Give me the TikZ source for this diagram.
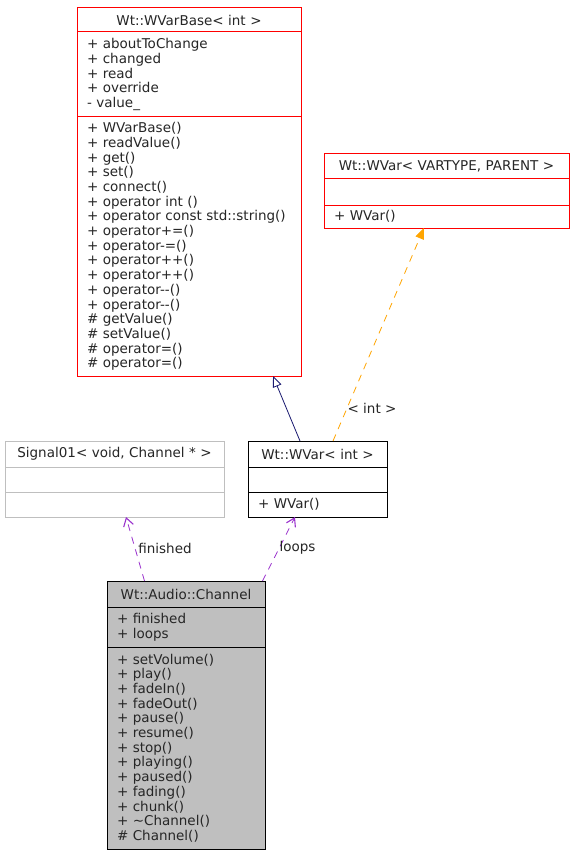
\documentclass[tikz,border=0pt]{standalone}
\usepackage{fontspec}
\setmainfont{DejaVu Sans}
\usetikzlibrary{arrows.meta}
\definecolor{dxred}{HTML}{FF0000}
\definecolor{dxgray}{HTML}{BFBFBF}
\definecolor{dxnavy}{HTML}{191970}
\definecolor{dxorange}{HTML}{FFA500}
\definecolor{dxpurple}{HTML}{9A32CD}
\tikzset{
  txt/.style={font=\fontsize{13.5}{14.7}\selectfont, text=black!85},
  comp/.style={txt, inner xsep=10pt, inner ysep=0pt, outer sep=0pt, anchor=north west, align=left},
  ttl/.style={comp, align=center},
  chanbox/.style={fill=dxgray},
  frame/.style={line width=1pt},
  lbl/.style={txt, inner sep=1pt},
  inherit/.style={draw=dxnavy, line width=0.8pt, -{Triangle[open, length=11pt, width=9pt]}},
  templ/.style={draw=dxorange, line width=0.8pt, dash pattern=on 7pt off 6pt, -{Triangle[length=11pt, width=9pt, fill=dxorange]}},
  usage/.style={draw=dxpurple, line width=0.8pt, dash pattern=on 7pt off 6pt, -{Straight Barb[length=8pt, width=10pt, line width=1.1pt]}},
}
\begin{document}
\begin{tikzpicture}[x=1pt, y=-1pt]
\fill[white] (0,0) rectangle (572,853);
\useasboundingbox (0,0) rectangle (572,853);

% Wt::WVarBase< int >
\node[ttl, text width=204pt, minimum height=24pt] (base-t) at (77,8) {Wt::WVarBase< int >};
\node[comp, text width=204pt, minimum height=85pt] (base-a) at (77,32) {+ aboutToChange\\+ changed\\+ read\\+ override\\- value\_};
\node[comp, text width=204pt, minimum height=259pt] (base-m) at (77,117) {+ WVarBase()\\+ readValue()\\+ get()\\+ set()\\+ connect()\\+ operator int ()\\+ operator const std::string()\\+ operator+=()\\+ operator-=()\\+ operator++()\\+ operator++()\\+ operator-{}-()\\+ operator-{}-()\\\# getValue()\\\# setValue()\\\# operator=()\\\# operator=()};
\draw[frame, dxred] (base-t.north west) rectangle (base-m.south east);
\draw[frame, dxred] (base-a.north west) -- (base-a.north east);
\draw[frame, dxred] (base-m.north west) -- (base-m.north east);

% Wt::WVar< VARTYPE, PARENT >
\node[ttl, text width=225pt, minimum height=25pt] (tmpl-t) at (324,154) {Wt::WVar< VARTYPE, PARENT >};
\node[comp, text width=225pt, minimum height=26pt] (tmpl-a) at (324,179) {};
\node[comp, text width=225pt, minimum height=23pt] (tmpl-m) at (324,205) {+ WVar()};
\draw[frame, dxred] (tmpl-t.north west) rectangle (tmpl-m.south east);
\draw[frame, dxred] (tmpl-a.north west) -- (tmpl-a.north east);
\draw[frame, dxred] (tmpl-m.north west) -- (tmpl-m.north east);

% Signal01< void, Channel * >
\node[ttl, text width=199pt, minimum height=26pt] (sig-t) at (5,441) {Signal01< void, Channel * >};
\node[comp, text width=199pt, minimum height=25pt] (sig-a) at (5,467) {};
\node[comp, text width=199pt, minimum height=25pt] (sig-m) at (5,492) {};
\draw[frame, dxgray] (sig-t.north west) rectangle (sig-m.south east);
\draw[frame, dxgray] (sig-a.north west) -- (sig-a.north east);
\draw[frame, dxgray] (sig-m.north west) -- (sig-m.north east);

% Wt::WVar< int >
\node[ttl, text width=119pt, minimum height=26pt] (wint-t) at (248,441) {Wt::WVar< int >};
\node[comp, text width=119pt, minimum height=25pt] (wint-a) at (248,467) {};
\node[comp, text width=119pt, minimum height=25pt] (wint-m) at (248,492) {+ WVar()};
\draw[frame, black] (wint-t.north west) rectangle (wint-m.south east);
\draw[frame, black] (wint-a.north west) -- (wint-a.north east);
\draw[frame, black] (wint-m.north west) -- (wint-m.north east);

% Wt::Audio::Channel
\fill[dxgray] (107,581) rectangle (265,849);
\node[ttl, text width=138pt, minimum height=26pt] (ch-t) at (107,581) {Wt::Audio::Channel};
\node[comp, text width=138pt, minimum height=40pt] (ch-a) at (107,607) {+ finished\\+ loops};
\node[comp, text width=138pt, minimum height=202pt] (ch-m) at (107,647) {+ setVolume()\\+ play()\\+ fadeIn()\\+ fadeOut()\\+ pause()\\+ resume()\\+ stop()\\+ playing()\\+ paused()\\+ fading()\\+ chunk()\\+ \textasciitilde Channel()\\\# Channel()};
\draw[frame, black] (ch-t.north west) rectangle (ch-m.south east);
\draw[frame, black] (ch-a.north west) -- (ch-a.north east);
\draw[frame, black] (ch-m.north west) -- (ch-m.north east);

% connectors
\draw[inherit] ([xshift=-17.5pt]wint-t.north) -- ([xshift=84pt]base-m.south);
\draw[templ] ([xshift=15.5pt]wint-t.north) -- ([xshift=-22.5pt]tmpl-m.south);
\node[lbl] (lab-int) at (372,408) {< int >};
\draw[usage] ([xshift=-41.5pt]ch-t.north) -- ([xshift=11.5pt]sig-m.south);
\node[lbl] (lab-fin) at (165,548) {finished};
\draw[usage] ([xshift=76.5pt]ch-t.north) -- ([xshift=-22.5pt]wint-m.south);
\node[lbl] (lab-loops) at (297.5,548) {loops};
\end{tikzpicture}
\end{document}
